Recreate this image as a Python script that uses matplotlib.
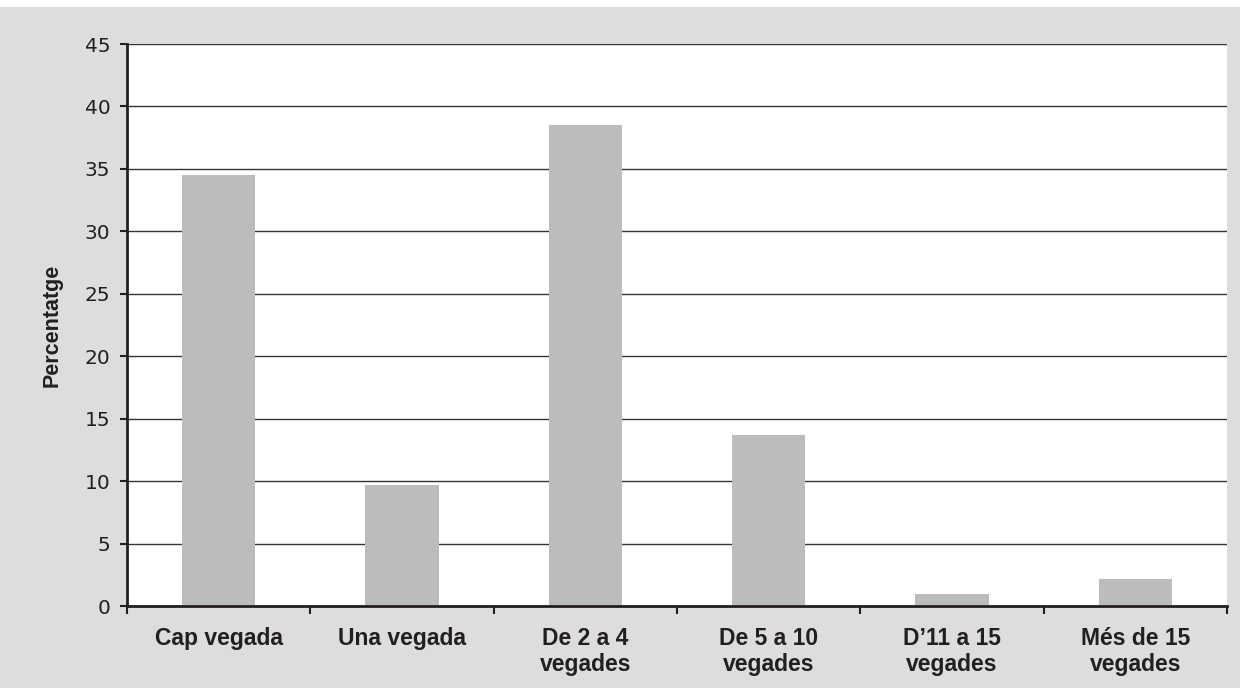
import numpy as np
import matplotlib
matplotlib.use("Agg")
from matplotlib import pyplot as plt
from matplotlib.patches import Rectangle

# data
categories = ["Cap vegada", "Una vegada", "De 2 a 4\nvegades", "De 5 a 10\nvegades",
              "D\u201911 a 15\nvegades", "M\u00e9s de 15\nvegades"]
values = [34.5, 9.7, 38.5, 13.7, 1.0, 2.2]
yticks = [0, 5, 10, 15, 20, 25, 30, 35, 40, 45]

bg = "#dcdddf"
bar_color = "#bbbcbe"
text_color = "#231f20"

plt.rcParams['font.family'] = ['Liberation Sans', 'DejaVu Sans']

fig = plt.figure(figsize=(12.4, 6.88), dpi=100)
fig.patch.set_facecolor("white")
# grey panel behind everything (thin white strip on top)
fig.patches.append(Rectangle((0, 0), 1, 1 - 7 / 688, transform=fig.transFigure,
                             facecolor=bg, edgecolor="none", zorder=-10))

ax = fig.add_axes([127 / 1240, 1 - 606 / 688, 1100 / 1240, (606 - 44) / 688])
ax.set_facecolor("white")

x = np.arange(len(categories))
ax.bar(x, values, width=0.4, color=bar_color, zorder=2)

ax.set_xlim(-0.5, len(categories) - 0.5)
ax.set_ylim(0, 45)
ax.set_yticks(yticks)
ax.set_yticklabels([str(v) for v in yticks], family="DejaVu Sans", fontsize=14.5,
                   color=text_color)
ax.yaxis.grid(True, color="#333333", linewidth=1.0, zorder=1)
ax.set_axisbelow(True)

# tick marks at category boundaries, labels at the centres
ax.set_xticks(np.arange(len(categories) + 1) - 0.5)
ax.set_xticklabels([])
ax.set_xticks(x, minor=True)
ax.set_xticklabels(categories, minor=True, fontsize=16.5, fontweight="bold",
                   color=text_color, linespacing=1.2)
ax.tick_params(axis="x", which="major", direction="out", length=6, width=1.5, color=text_color)
ax.tick_params(axis="x", which="minor", length=0, pad=15)
ax.tick_params(axis="y", direction="out", length=5, width=1.5, color=text_color, pad=7)

for s in ["top", "right"]:
    ax.spines[s].set_visible(False)
for s in ["left", "bottom"]:
    ax.spines[s].set_linewidth(2)
    ax.spines[s].set_color(text_color)

ax.set_ylabel("Percentatge", fontsize=15.5, fontweight="bold", color=text_color,
              family=["Liberation Sans Narrow", "Liberation Sans", "DejaVu Sans"])
ax.yaxis.set_label_coords(-64 / 1100, 0.5)

fig.savefig("out.png", dpi=100, facecolor=fig.get_facecolor())
